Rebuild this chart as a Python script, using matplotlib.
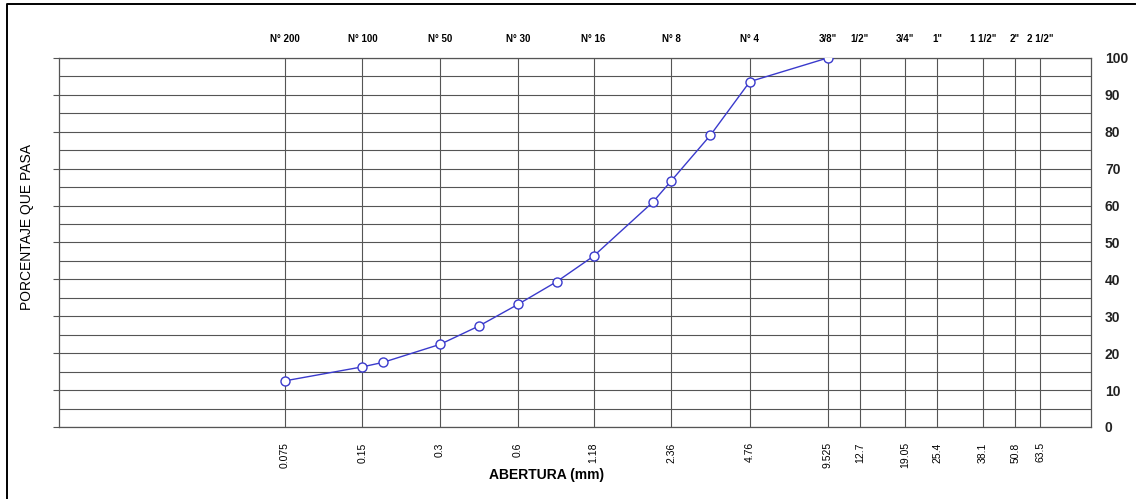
import matplotlib
matplotlib.use('Agg')
import matplotlib.pyplot as plt
from matplotlib.lines import Line2D
from matplotlib.ticker import MultipleLocator, NullLocator, FixedLocator

plt.rcParams['font.family'] = ['Liberation Sans', 'DejaVu Sans']

# sieve openings (mm) and their names
sieve_mm = [0.075, 0.15, 0.3, 0.6, 1.18, 2.36, 4.76, 9.525, 12.7, 19.05, 25.4, 38.1, 50.8, 63.5]
sieve_mm_labels = ['0.075', '0.15', '0.3', '0.6', '1.18', '2.36', '4.76', '9.525',
                   '12.7', '19.05', '25.4', '38.1', '50.8', '63.5']
sieve_names = ['N° 200', 'N° 100', 'N° 50', 'N° 30', 'N° 16', 'N° 8', 'N° 4',
               '3/8"', '1/2"', '3/4"', '1"', '1 1/2"', '2"', '2 1/2"']

# grading curve
opening = [0.075, 0.15, 0.18, 0.3, 0.425, 0.6, 0.85, 1.18, 2.0, 2.36, 3.35, 4.76, 9.525]
passing = [12.5, 16.3, 17.5, 22.4, 27.4, 33.2, 39.4, 46.3, 60.9, 66.7, 79.1, 93.6, 100]

GRID = '#555555'
LINE = '#3a3acc'

fig = plt.figure(figsize=(11.39, 4.99), dpi=100)
ax = fig.add_axes([0.0518, 0.1443, 0.9061, 0.7395])

ax.set_xscale('log')
ax.set_xlim(0.01, 100)
ax.set_ylim(0, 100)

ax.plot(opening, passing, color=LINE, linewidth=1.0, marker='o', markersize=6.5,
        markerfacecolor='white', markeredgecolor=LINE, markeredgewidth=1.0, zorder=3)

# x axis: sieve openings
ax.xaxis.set_major_locator(FixedLocator(sieve_mm))
ax.xaxis.set_minor_locator(NullLocator())
ax.set_xticklabels(sieve_mm_labels, rotation=90, fontsize=7.5)
ax.tick_params(axis='x', length=0, pad=11)
ax.grid(True, axis='x', color=GRID, linewidth=0.8)

# y axis: labels on the right, short ticks on the left
ax.yaxis.set_major_locator(MultipleLocator(10))
ax.yaxis.set_minor_locator(MultipleLocator(5))
ax.tick_params(axis='y', which='major', left=True, right=False, labelleft=False,
               labelright=True, direction='out', length=4, color=GRID, pad=6,
               labelsize=10)
ax.tick_params(axis='y', which='minor', left=False, right=False)
for lbl in ax.get_yticklabels():
    lbl.set_fontweight('bold')
    lbl.set_color('#222222')
ax.grid(True, axis='y', which='both', color=GRID, linewidth=0.8)

for sp in ax.spines.values():
    sp.set_color(GRID)
    sp.set_linewidth(0.9)

# top axis: sieve names
top = ax.secondary_xaxis('top')
top.xaxis.set_major_locator(FixedLocator(sieve_mm))
top.xaxis.set_minor_locator(NullLocator())
top.set_xticklabels(sieve_names, fontsize=7, fontweight='bold')
top.tick_params(axis='x', length=0, pad=10)
top.spines['top'].set_visible(False)

ax.set_xlabel('ABERTURA (mm)', fontsize=10, fontweight='bold')
ax.xaxis.set_label_coords(0.472, -0.11)
fig.text(0.024, 0.545, 'PORCENTAJE QUE PASA', rotation=90, fontsize=10,
         ha='center', va='center')

# outer frame (only left and top edges fall inside the picture)
fx = 7 / 1139
fy = 1 - 4 / 499
fig.add_artist(Line2D([fx, fx, 1135 / 1139], [0.0, fy, fy], transform=fig.transFigure,
                      color='black', linewidth=1.4))

fig.savefig('out.png', dpi=100)
